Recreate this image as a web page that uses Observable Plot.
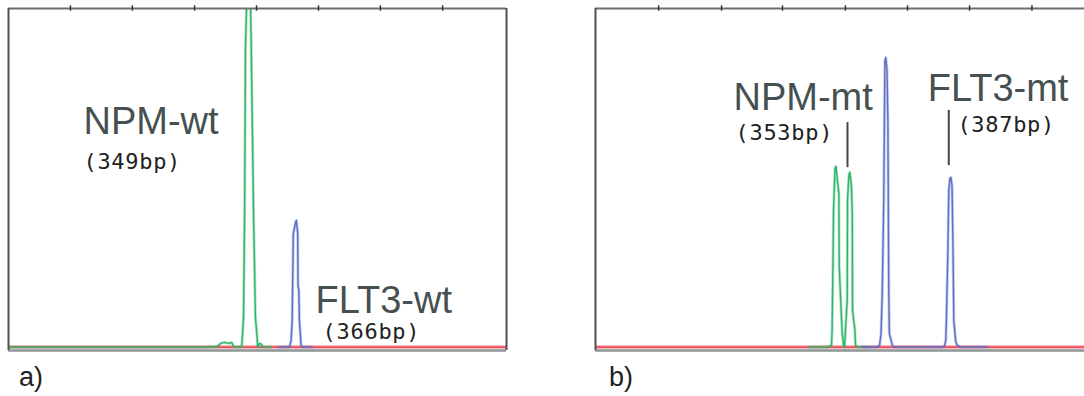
<!DOCTYPE html>
<html>
<head>
<meta charset="utf-8">
<script src="https://cdn.jsdelivr.net/npm/d3@7"></script>
<script src="https://cdn.jsdelivr.net/npm/@observablehq/plot@0.6"></script>
<style>
  html, body { margin: 0; padding: 0; background: #fff; }
  #wrap { position: relative; width: 1084px; height: 396px; overflow: hidden; }
  #wrap > div, #wrap > svg { position: absolute; }
  .cap { font-family: "Liberation Sans", Arial, sans-serif; font-size: 27px; line-height: 27px; color: #222; }
</style>
</head>
<body>
<div id="wrap"></div>
<script>
// ---------- Panel a data (x: fragment size, bp; y: relative signal) ----------
const domainA = [262.2, 442.3];
const ticksA = [284.6, 307.0, 329.5, 351.9, 374.3, 396.7, 419.2];
const greenA_x = [262, 335.3, 337.8, 338.9, 340.3, 341.8, 342.9, 343.6, 344.7, 346.5, 346.8, 347.2, 347.6, 347.9, 348.8, 349.4, 350.0, 350.8, 351.5, 352.1, 352.3, 353.0, 353.7, 354.1, 357.0];
const greenA_y = [0, 0, 0.2, 1.1, 1.4, 1.1, 1.4, 0.2, 0, 0, 3.1, 8.7, 40.3, 88.2, 117, 117, 88.2, 40.3, 8.7, 3.1, 0, 1.1, 0.8, 0, 0];
const blueA_x = [360, 363.8, 364.4, 364.8, 365.2, 366.0, 366.3, 366.5, 366.8, 366.9, 367.2, 367.4, 368.0, 368.5, 372];
const blueA_y = [0, 0, 1.9, 7.9, 33.5, 36.8, 37.4, 35.9, 33.5, 18.2, 16.7, 7.9, 0.5, 0, 0];
const namesA = ["NPM-wt", "FLT3-wt"];
const namesA_x = [289.3, 373.2];
const namesA_y = [63.0, 10.2];
const sizesA = ["(349bp)", "(366bp)"];
const sizesA_x = [289.3, 375.8];
const sizesA_y = [52.7, 2.5];

// ---------- Panel b data ----------
const domainB = [268.15, 432.8];
const ticksB = [289.4, 310.6, 331.1, 352.3, 373.2, 394.1, 415.1];
const greenB_x = [340, 345.9, 347.6, 347.8, 348.1, 348.3, 348.8, 349.1, 349.6, 350.1, 350.2, 351.2, 351.7, 352.0, 352.3, 352.9, 353.0, 353.5, 353.8, 354.3, 354.6, 354.7, 355.5, 355.7, 356.4, 360];
const greenB_y = [0, 0, 0.5, 4.3, 24.1, 40.3, 52.7, 53.4, 49.2, 45.4, 24.1, 4.3, 0.5, 0, 4.9, 13.8, 43.3, 51.0, 51.6, 47.7, 39.5, 10.8, 4.9, 0.5, 0, 0];
const blueB_x = [358, 362.8, 363.8, 364.3, 364.7, 365.2, 365.6, 365.9, 366.3, 366.6, 366.9, 367.1, 368.1, 368.8, 380, 384.6, 385.6, 386.1, 386.3, 386.8, 387.1, 387.5, 387.8, 388.2, 388.5, 388.8, 389.4, 389.9, 391.0, 400];
const blueB_y = [0, 0, 0.5, 4.0, 15.8, 43.3, 84.6, 85.5, 81.7, 66.9, 15.8, 4.0, 0.5, 0, 0, 0, 0.2, 1.9, 7.9, 28.5, 46.2, 49.8, 50.1, 47.7, 30.6, 7.9, 1.9, 0.5, 0, 0];
const namesB = ["NPM-mt", "FLT3-mt"];
const namesB_x = [314.6, 380.0];
const namesB_y = [70.1, 72.8];
const sizesB = ["(353bp)", "(387bp)"];
const sizesB_x = [315.3, 390.0];
const sizesB_y = [61.3, 63.4];
const markB_x = [353.0, 387.1];
const markB_y1 = [53.0, 53.6];
const markB_y2 = [66.3, 69.9];

const panelLabels = ["a)", "b)"];

// ---------- helpers ----------
const zip = (xs, ys) => xs.map((x, i) => ({x, y: ys[i]}));
const labelRows = (t, xs, ys) => t.map((s, i) => ({t: s, x: xs[i], y: ys[i]}));
const Y_DOMAIN = [-1, 100];
const BIG = {fontFamily: "Liberation Sans, Arial, sans-serif", fontSize: 38, fill: "#465050", textAnchor: "start", lineAnchor: "bottom"};
const MONO = {fontFamily: "DejaVu Sans Mono", fontSize: 22, fill: "#222", textAnchor: "start", lineAnchor: "bottom"};

function trace(data, color) {
  return [
    Plot.line(data, {x: "x", y: "y", stroke: color, strokeWidth: 3, strokeOpacity: 0.35, clip: true, curve: "linear"}),
    Plot.line(data, {x: "x", y: "y", stroke: color, strokeWidth: 1.4, clip: true, curve: "linear"})
  ];
}

function panel({domain, ticks, green, blue, names, sizes, marks, width, marginRight, closeRight}) {
  const m = [
    Plot.ruleY([0], {stroke: "#f4a3ab", strokeWidth: 3.5}),
    Plot.ruleY([0], {stroke: "#e63440", strokeWidth: 1.3}),
    ...trace(green, "#2fb56a"),
    ...trace(blue, "#5f6fc4"),
    Plot.ruleY([Y_DOMAIN[0]], {stroke: "#8c9494", strokeWidth: 2.5}),
    Plot.ruleY([Y_DOMAIN[1]], {stroke: "#6a7070", strokeWidth: 2}),
    Plot.ruleX([domain[0]], {stroke: "#4a5252", strokeWidth: 2}),
    Plot.ruleX(ticks, {y1: 99.2, y2: 100.8, stroke: "#333", strokeWidth: 1.5}),
    Plot.text(names, {x: "x", y: "y", text: "t", ...BIG}),
    Plot.text(sizes, {x: "x", y: "y", text: "t", ...MONO})
  ];
  if (closeRight) m.push(Plot.ruleX([domain[1]], {stroke: "#4a5252", strokeWidth: 2}));
  if (marks) m.push(Plot.ruleX(marks, {x: "x", y1: "y1", y2: "y2", stroke: "#3e4848", strokeWidth: 2}));
  const svg = Plot.plot({
    width, height: 360,
    marginLeft: 8, marginRight, marginTop: 8, marginBottom: 10,
    x: {domain, axis: null},
    y: {domain: Y_DOMAIN, axis: null},
    style: {background: "transparent", overflow: "visible"},
    marks: m
  });
  svg.querySelectorAll('g[font-family="DejaVu Sans Mono"]').forEach(g => g.setAttribute("letter-spacing", "0.7"));
  return svg;
}

const wrap = document.getElementById("wrap");

const svgA = panel({
  domain: domainA, ticks: ticksA,
  green: zip(greenA_x, greenA_y), blue: zip(blueA_x, blueA_y),
  names: labelRows(namesA, namesA_x, namesA_y),
  sizes: labelRows(sizesA, sizesA_x, sizesA_y),
  width: 520, marginRight: 14, closeRight: true
});
svgA.style.left = "0px"; svgA.style.top = "0px";
wrap.appendChild(svgA);

const svgB = panel({
  domain: domainB, ticks: ticksB,
  green: zip(greenB_x, greenB_y), blue: zip(blueB_x, blueB_y),
  names: labelRows(namesB, namesB_x, namesB_y),
  sizes: labelRows(sizesB, sizesB_x, sizesB_y),
  marks: markB_x.map((x, i) => ({x, y1: markB_y1[i], y2: markB_y2[i]})),
  width: 497, marginRight: 0, closeRight: false
});
svgB.style.left = "587px"; svgB.style.top = "0px";
wrap.appendChild(svgB);

[[19, panelLabels[0]], [609, panelLabels[1]]].forEach(([left, t]) => {
  const d = document.createElement("div");
  d.className = "cap";
  d.style.left = left + "px";
  d.style.top = "364px";
  d.textContent = t;
  wrap.appendChild(d);
});
</script>
</body>
</html>
